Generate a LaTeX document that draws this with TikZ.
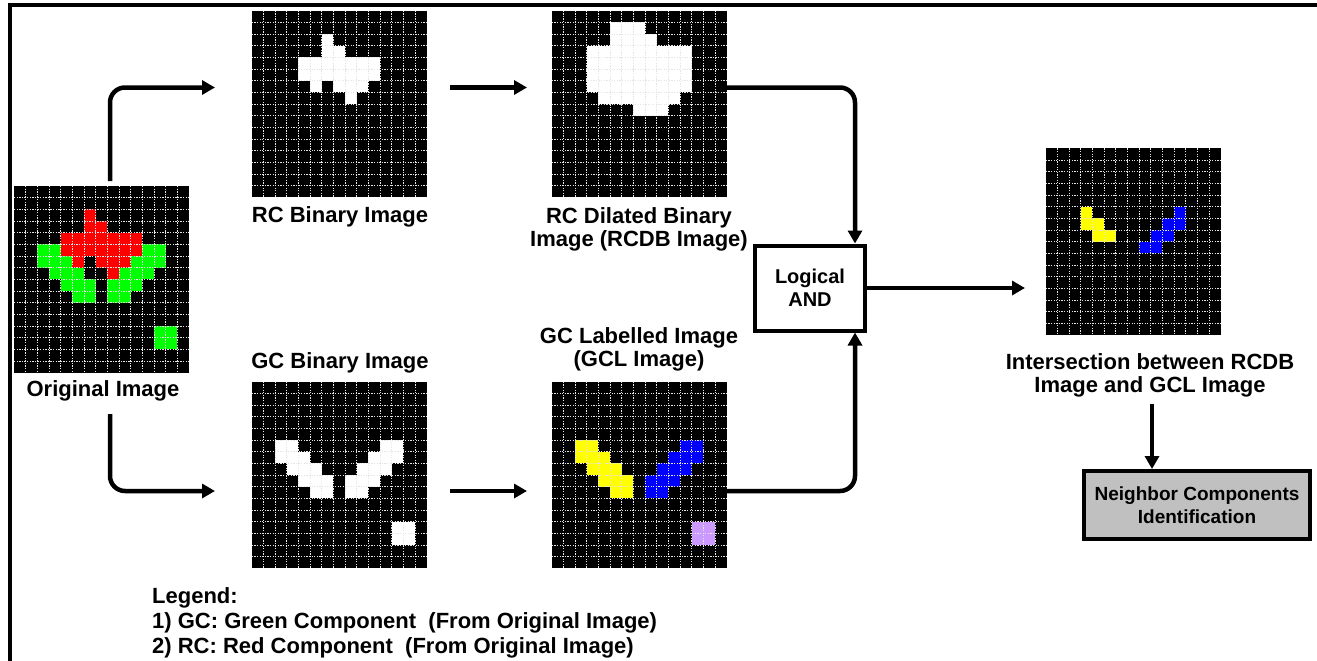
\documentclass[tikz,border=0pt]{standalone}
\usepackage{fontspec}
\setmainfont{Liberation Sans}
\usetikzlibrary{arrows.meta,calc}
\definecolor{pgreen}{RGB}{0,255,0}
\definecolor{pred}{RGB}{255,0,0}
\definecolor{pyellow}{RGB}{255,255,0}
\definecolor{pblue}{RGB}{0,0,255}
\definecolor{ppurple}{RGB}{204,153,255}
\definecolor{boxgray}{RGB}{192,192,192}
\newcommand\gridcells[3]{%
  \begin{scope}[shift={(#1.north west)},x=11.667pt,y=-11.667pt]
    \foreach \r/\a/\b in {#3} \fill[#2] (\a,\r) rectangle (\b+1,\r+1);
  \end{scope}}
\newcommand\gridlines[1]{%
  \begin{scope}[shift={(#1.north west)},x=11.667pt,y=-11.667pt]
    \foreach \i in {1,...,14} \draw[gl] (\i,0) -- (\i,16);
    \foreach \j in {1,...,15} \draw[gl] (0,\j) -- (15,\j);
  \end{scope}}
\begin{document}
\begin{tikzpicture}[x=1pt,y=-1pt,
  img/.style={fill=black,inner sep=0pt,outer sep=0pt,minimum width=175pt,minimum height=186.7pt,anchor=north west},
  gl/.style={white!80!gray,line width=0.7pt,dash pattern=on 1.3pt off 1.3pt},
  lbl/.style={font=\bfseries\fontsize{22}{23}\selectfont,align=center,inner sep=0pt},
  arr/.style={line width=4.5pt,-{Triangle[length=13pt,width=14pt]},rounded corners=15pt},
  opbox/.style={draw,line width=4pt,font=\bfseries\fontsize{20}{23}\selectfont,align=center,inner sep=0pt},
]
\useasboundingbox (0,0) rectangle (1317,661);
\draw[line width=4pt] (10.3,661) -- (10.3,5.3) -- (1317,5.3);

% images
\node[img] (orig) at (14,186) {};
\node[img] (rcb) at (251.7,10.7) {};
\node[img] (rcdb) at (551.7,10.7) {};
\node[img] (gcb) at (251.7,381.7) {};
\node[img] (gcl) at (551.7,381.7) {};
\node[img] (inter) at (1045.7,148.3) {};

% original
\gridcells{orig}{pred}{2/6/6,3/6/7,4/4/10,5/4/10,6/5/5,6/7/9,7/8/8}
\gridcells{orig}{pgreen}{5/2/3,6/2/4,7/3/5,8/4/6,9/5/6,5/11/12,6/10/12,7/9/11,8/8/10,9/8/9,12/12/13,13/12/13}
\gridlines{orig}
% RC binary
\gridcells{rcb}{white}{2/6/6,3/6/7,4/4/10,5/4/10,6/5/5,6/7/9,7/8/8}
\gridlines{rcb}
% RC dilated
\gridcells{rcdb}{white}{1/5/7,2/5/8,3/3/11,4/3/11,5/3/11,6/3/11,7/4/10,8/7/9}
\gridlines{rcdb}
% GC binary
\gridcells{gcb}{white}{5/2/3,6/2/4,7/3/5,8/4/6,9/5/6,5/11/12,6/10/12,7/9/11,8/8/10,9/8/9,12/12/13,13/12/13}
\gridlines{gcb}
% GC labelled
\gridcells{gcl}{pyellow}{5/2/3,6/2/4,7/3/5,8/4/6,9/5/6}
\gridcells{gcl}{pblue}{5/11/12,6/10/12,7/9/11,8/8/10,9/8/9}
\gridcells{gcl}{ppurple}{12/12/13,13/12/13}
\gridlines{gcl}
% intersection
\gridcells{inter}{pyellow}{5/3/3,6/3/4,7/4/5}
\gridcells{inter}{pblue}{5/11/11,6/10/11,7/9/10,8/8/9}
\gridlines{inter}

% labels
\node[lbl] (lorig) at (103,391) {Original Image};
\node[lbl] (lrcb) at (340,217) {RC Binary Image};
\node[lbl] (lrcdb) at (639,229) {RC Dilated Binary\\Image (RCDB Image)};
\node[lbl] (lgcb) at (340,363) {GC Binary Image};
\node[lbl] (lgcl) at (639,349) {GC Labelled Image\\(GCL Image)};
\node[lbl] (linter) at (1150,375) {Intersection between RCDB\\Image and GCL Image};

% boxes
\node[opbox,minimum width=110pt,minimum height=85pt] (and) at (810,288) {Logical\\AND};
\node[opbox,fill=boxgray,minimum width=226pt,minimum height=68pt,font=\bfseries\fontsize{19}{23}\selectfont] (nci) at (1197,505) {Neighbor Components\\Identification};

% legend
\node[lbl,align=left,anchor=north west,font=\bfseries\fontsize{22}{25}\selectfont] (legend) at (152,587)
 {Legend:\\1) GC: Green Component\ \ (From Original Image)\\2) RC: Red Component\ \ (From Original Image)};

% arrows
\coordinate (s1) at (110,181);
\coordinate (t1) at (215,87.5);
\coordinate (s2) at (110,414);
\coordinate (t2) at (215,491);
\draw[arr] (s1) |- (t1);
\draw[arr] (s2) |- (t2);
\draw[arr] (450,87.5) -- (527,87.5);
\draw[arr] (450,491) -- (527,491);
\draw[arr] (727,87.5) -| (and.north -| 855,0);
\draw[arr] (727,491) -| (and.south -| 855,0);
\draw[arr] (and.east) -- (1025,288);
\draw[arr] (1152,404) -- (nci.north -| 1152,0);
\end{tikzpicture}
\end{document}
